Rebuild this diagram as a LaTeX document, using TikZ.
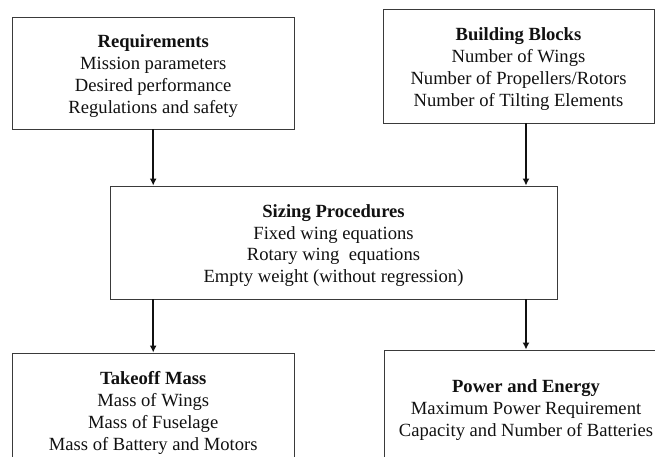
\documentclass[tikz,border=0pt]{standalone}
\usepackage{fontspec}
\setmainfont{Liberation Serif}
\usepackage{tikz}
\usetikzlibrary{positioning,arrows.meta,calc}
\definecolor{ink}    {HTML}{111111}
\definecolor{frame}  {HTML}{3A3A3A}
% heading line of a block, with a strut that sets the text a little lower
\newcommand{\blkhead}[1]{\rule{0pt}{19pt}\textbf{#1}}
\tikzset{
  every node/.style={font=\fontsize{18.6}{21.8}\selectfont},
  % --- nodes
  blk/.style   = {draw=frame, line width=0.9pt, fill=white, align=center,
                  inner sep=0pt, text=ink},
  % --- edges
  e/.style     = {-{Latex[length=7pt,width=7pt]}, line width=1.6pt, draw=ink},
}
\begin{document}
\begin{tikzpicture}[x=1pt,y=-1pt]
  \useasboundingbox (0,0) rectangle (655,456);
  % top row
  \node[blk, minimum width=281.5pt, minimum height=112pt] (req) at (153.2,73)
    {\blkhead{Requirements}\\Mission parameters\\Desired performance\\Regulations and safety};
  \node[blk, minimum width=271pt, minimum height=114pt] (bb) at (518.5,66)
    {\blkhead{Building Blocks}\\Number of Wings\\Number of Propellers/Rotors\\Number of Tilting Elements};
  % middle
  \node[blk, minimum width=447pt, minimum height=113pt] (siz) at (333.5,242.5)
    {\blkhead{Sizing Procedures}\\Fixed wing equations\\Rotary wing\ \ equations\\Empty weight (without regression)};
  % bottom row, cut by the page edge
  \node[blk, minimum width=281.5pt, minimum height=114pt] (tom) at (153.2,410)
    {\blkhead{Takeoff Mass}\\Mass of Wings\\Mass of Fuselage\\Mass of Battery and Motors};
  \node[blk, minimum width=284pt, minimum height=114pt] (pe) at (526,407)
    {\blkhead{Power and Energy}\\Maximum Power Requirement\\Capacity and Number of Batteries};
  % arrows
  \draw[e] (req.south) -- (req.south |- siz.north);
  \draw[e] (bb.south -| pe.north) -- (siz.north -| pe.north);
  \draw[e] (siz.south -| tom.north) -- (tom.north);
  \draw[e] (siz.south -| pe.north) -- (pe.north);
\end{tikzpicture}
\end{document}
